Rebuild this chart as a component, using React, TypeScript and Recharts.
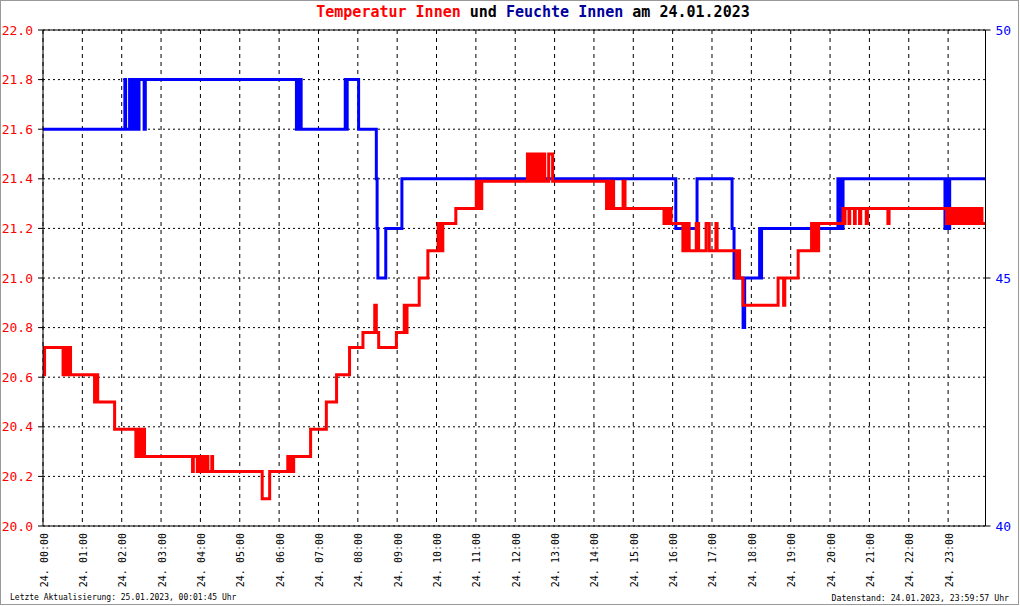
import React from 'react';
import {
  CartesianGrid,
  Line,
  LineChart,
  ReferenceLine,
  XAxis,
  YAxis,
} from 'recharts';

// Temperatur Innen (°C), step values, times in hours of 24.01.2023
const tempTimes = [
  0, 0.04, 0.51, 0.55, 0.58, 0.61, 0.64, 0.67, 0.7, 1.31, 1.33, 1.36, 1.37, 1.39,
  1.82, 2.36, 2.39, 2.42, 2.45, 2.5, 2.53, 2.58, 3.8, 3.82, 3.92, 3.94, 3.98, 4.0,
  4.04, 4.06, 4.1, 4.12, 4.19, 4.29, 4.31, 5.57, 5.76, 6.22, 6.26, 6.29, 6.33, 6.37,
  6.8, 7.2, 7.46, 7.79, 8.13, 8.43, 8.47, 8.53, 8.98, 9.18, 9.22, 9.25, 9.56, 9.78,
  10.04, 10.08, 10.11, 10.14, 10.16, 10.49, 11.01, 11.04, 11.08, 11.11, 11.15,
  12.31, 12.36, 12.38, 12.45, 12.47, 12.52, 12.55, 12.62, 12.64, 12.7, 12.72,
  12.75, 12.85, 12.95, 14.32, 14.38, 14.43, 14.47, 14.5, 14.74, 14.79, 15.78, 15.82,
  15.88, 15.9, 15.96, 16.26, 16.3, 16.34, 16.38, 16.42, 16.6, 16.66, 16.85, 16.93,
  17.1, 17.13, 17.62, 17.66, 17.7, 17.79, 18.68, 18.82, 18.85, 19.19, 19.53, 19.58,
  19.63, 19.67, 19.71, 20.33, 20.36, 20.38, 20.48, 20.5, 20.62, 20.64, 20.75, 20.78,
  20.92, 20.95, 21.47, 21.5, 22.96, 23.0, 23.04, 23.1, 23.13, 23.2, 23.23, 23.3,
  23.33, 23.39, 23.42, 23.48, 23.51, 23.57, 23.6, 23.66, 23.69, 23.75, 23.78, 23.83,
  23.86, 23.95,
];
const tempValues = [
  20.61, 20.72, 20.61, 20.72, 20.61, 20.72, 20.61, 20.72, 20.61, 20.5, 20.61, 20.5,
  20.61, 20.5, 20.39, 20.28, 20.39, 20.28, 20.39, 20.28, 20.39, 20.28, 20.22, 20.28,
  20.22, 20.28, 20.22, 20.28, 20.22, 20.28, 20.22, 20.28, 20.22, 20.28, 20.22, 20.11,
  20.22, 20.28, 20.22, 20.28, 20.22, 20.28, 20.39, 20.5, 20.61, 20.72, 20.78, 20.89,
  20.78, 20.72, 20.78, 20.89, 20.78, 20.89, 21.0, 21.11, 21.22, 21.11, 21.22, 21.11,
  21.22, 21.28, 21.39, 21.28, 21.39, 21.28, 21.39, 21.5, 21.39, 21.5, 21.39, 21.5,
  21.39, 21.5, 21.39, 21.5, 21.39, 21.5, 21.39, 21.5, 21.39, 21.28, 21.39, 21.28,
  21.39, 21.28, 21.39, 21.28, 21.22, 21.28, 21.22, 21.28, 21.22, 21.11, 21.22, 21.11,
  21.22, 21.11, 21.22, 21.11, 21.22, 21.11, 21.22, 21.11, 21.0, 21.11, 21.0, 20.89,
  21.0, 20.89, 21.0, 21.11, 21.22, 21.11, 21.22, 21.11, 21.22, 21.28, 21.22, 21.28,
  21.22, 21.28, 21.22, 21.28, 21.22, 21.28, 21.22, 21.28, 21.22, 21.28, 21.22, 21.28,
  21.22, 21.28, 21.22, 21.28, 21.22, 21.28, 21.22, 21.28, 21.22, 21.28, 21.22, 21.28,
  21.22, 21.28, 21.22, 21.28, 21.22, 21.28, 21.22, 21.22,
];

// Feuchte Innen (%)
const humTimes = [
  0, 2.08, 2.1, 2.2, 2.22, 2.26, 2.28, 2.31, 2.35, 2.38, 2.41, 2.44, 2.57, 2.6,
  6.44, 6.47, 6.51, 6.53, 6.56, 7.68, 7.71, 7.73, 8.02, 8.47, 8.49, 8.51, 8.71,
  9.12, 16.08, 16.62, 17.51, 17.56, 17.79, 17.83, 18.21, 18.24, 18.26, 20.2, 20.23,
  20.27, 20.3, 20.33, 22.92, 22.96, 23.0, 23.04, 23.95,
];
const humValues = [
  48, 49, 48, 49, 48, 49, 48, 49, 48, 49, 48, 49, 48, 49, 48, 49, 48, 49, 48, 49,
  48, 49, 48, 47, 46, 45, 46, 47, 46, 47, 46, 45, 44, 45, 46, 45, 46, 47, 46, 47,
  46, 47, 46, 47, 46, 47, 47,
];

const hourTicks = [
  0, 1, 2, 3, 4, 5, 6, 7, 8, 9, 10, 11, 12, 13, 14, 15, 16, 17, 18, 19, 20, 21, 22, 23,
];
const hourLabels = [
  '24. 00:00', '24. 01:00', '24. 02:00', '24. 03:00', '24. 04:00', '24. 05:00',
  '24. 06:00', '24. 07:00', '24. 08:00', '24. 09:00', '24. 10:00', '24. 11:00',
  '24. 12:00', '24. 13:00', '24. 14:00', '24. 15:00', '24. 16:00', '24. 17:00',
  '24. 18:00', '24. 19:00', '24. 20:00', '24. 21:00', '24. 22:00', '24. 23:00',
];
const tempTicks = [20, 20.2, 20.4, 20.6, 20.8, 21, 21.2, 21.4, 21.6, 21.8, 22];
const humTicks = [40, 45, 50];

const tempData = tempTimes.map((t, i) => ({ t, v: tempValues[i] }));
const humData = humTimes.map((t, i) => ({ t, v: humValues[i] }));

const MONO = '"DejaVu Sans Mono", "Liberation Mono", monospace';

function HourTick(props: any) {
  const { x, y, payload } = props;
  const label = hourLabels[hourTicks.indexOf(payload.value)] ?? '';
  return (
    <text
      x={x + 1}
      y={y}
      transform={`rotate(-90 ${x + 1} ${y})`}
      textAnchor="end"
      dominantBaseline="central"
      fontFamily={MONO}
      fontSize={10}
      fill="#000"
    >
      {label}
    </text>
  );
}

export default function App() {
  return (
    <div
      style={{
        position: 'absolute',
        left: 0,
        top: 0,
        width: 1020,
        height: 606,
        background: '#fff',
        fontFamily: MONO,
      }}
    >
      <div
        style={{
          position: 'absolute',
          left: 0,
          top: 0,
          width: 1017,
          height: 603,
          border: '1px solid #999',
          pointerEvents: 'none',
        }}
      />
      <div
        style={{
          position: 'absolute',
          left: 0,
          top: 3,
          width: 1066,
          textAlign: 'center',
          fontSize: 15,
          fontWeight: 'bold',
          whiteSpace: 'pre',
          lineHeight: '18px',
        }}
      >
        <span style={{ color: '#ff0000' }}>Temperatur Innen</span>
        <span style={{ color: '#000' }}> und </span>
        <span style={{ color: '#00009c' }}>Feuchte Innen</span>
        <span style={{ color: '#000' }}> am 24.01.2023</span>
      </div>

      <LineChart
        width={1020}
        height={606}
        margin={{ top: 30, right: 0, bottom: 0, left: 0 }}
      >
        <CartesianGrid
          yAxisId="left"
          vertical={false}
          stroke="#000"
          strokeDasharray="2 3"
        />
        <CartesianGrid
          yAxisId="left"
          horizontal={false}
          stroke="#000"
          strokeDasharray="4 4"
        />
        <XAxis
          dataKey="t"
          type="number"
          domain={[0, 23.95]}
          ticks={hourTicks}
          height={80}
          tickLine={false}
          tickSize={0}
          tickMargin={7}
          axisLine={{ stroke: '#000' }}
          tick={<HourTick />}
          allowDataOverflow
        />
        <YAxis
          yAxisId="left"
          domain={[20, 22]}
          ticks={tempTicks}
          width={43}
          tickSize={5}
          tickMargin={5}
          tickLine={{ stroke: '#000' }}
          axisLine={{ stroke: '#000' }}
          tickFormatter={(v: number) => v.toFixed(1)}
          tick={{ fill: '#ff0000', fontSize: 13, fontFamily: MONO }}
          allowDataOverflow
        />
        <YAxis
          yAxisId="right"
          orientation="right"
          domain={[40, 50]}
          ticks={humTicks}
          width={34.5}
          tickSize={5}
          tickMargin={5}
          tickLine={{ stroke: '#000' }}
          axisLine={{ stroke: '#000' }}
          tick={{ fill: '#0000ff', fontSize: 13, fontFamily: MONO }}
          allowDataOverflow
        />
        <ReferenceLine yAxisId="left" y={22} stroke="#000" strokeWidth={1} />
        <Line
          yAxisId="right"
          data={humData}
          dataKey="v"
          type="stepAfter"
          stroke="#0000ff"
          strokeWidth={3}
          dot={false}
          activeDot={false}
          isAnimationActive={false}
        />
        <Line
          yAxisId="left"
          data={tempData}
          dataKey="v"
          type="stepAfter"
          stroke="#ff0000"
          strokeWidth={3}
          dot={false}
          activeDot={false}
          isAnimationActive={false}
        />
      </LineChart>

      <div
        style={{
          position: 'absolute',
          left: 10,
          top: 593,
          fontSize: 8,
          lineHeight: '10px',
          whiteSpace: 'pre',
        }}
      >
        Letzte Aktualisierung: 25.01.2023, 00:01:45 Uhr
      </div>
      <div
        style={{
          position: 'absolute',
          right: 11,
          top: 593,
          fontSize: 8.2,
          lineHeight: '10px',
          whiteSpace: 'pre',
        }}
      >
        Datenstand: 24.01.2023, 23:59:57 Uhr
      </div>
    </div>
  );
}
